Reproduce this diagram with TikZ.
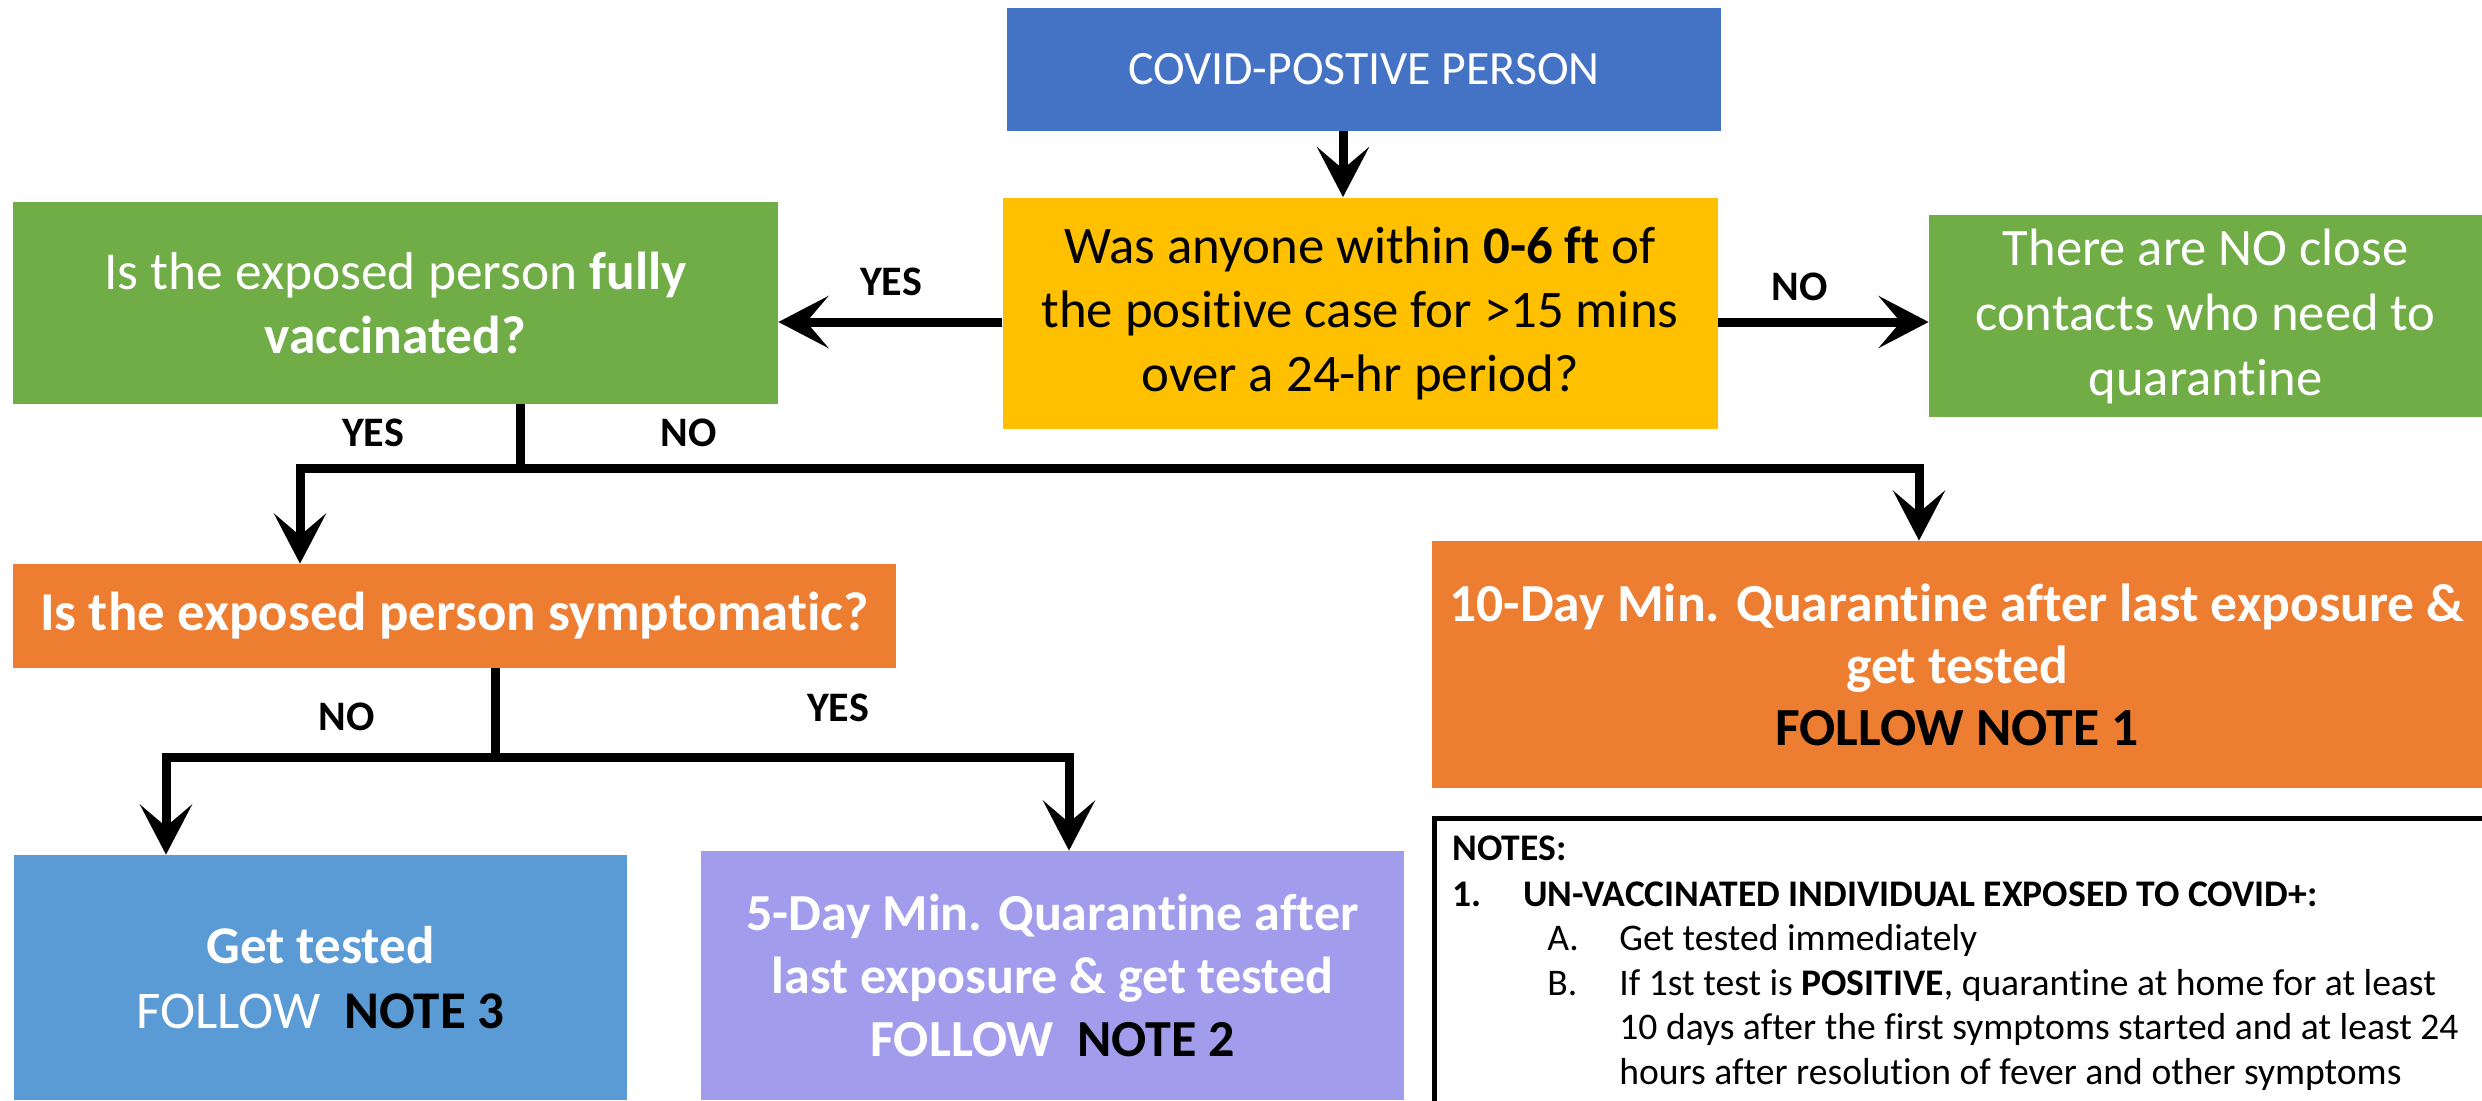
\documentclass[tikz,border=0pt]{standalone}
\usepackage{fontspec}
\setmainfont{Carlito}[Ligatures=NoCommon]
\usetikzlibrary{arrows.meta}
\definecolor{cblue}{HTML}{4472C4}
\definecolor{cyellow}{HTML}{FFC000}
\definecolor{cgreen}{HTML}{70AD47}
\definecolor{corange}{HTML}{ED7D31}
\definecolor{clblue}{HTML}{5B9BD5}
\definecolor{cpurple}{RGB}{161,156,236}
\begin{document}
\begin{tikzpicture}[x=0.5pt,y=-0.5pt,
  box/.style={draw=none,inner sep=0pt,align=center,text=white},
  arr/.style={line width=4.5pt,-{Stealth[length=25pt,width=26pt,inset=11pt]}},
  conn/.style={line width=4.5pt},
  lbl/.style={inner sep=0pt,font=\fontsize{21}{25}\selectfont\bfseries},
  note/.style={inner sep=0pt,anchor=base west,font=\fontsize{18.8}{22}\selectfont}]
\clip (0,0) rectangle (2482,1100);
\fill[white] (0,0) rectangle (2482,1100);

\node[box,fill=cblue,minimum width=357pt,minimum height=61.5pt,font=\fontsize{23.9}{28}\selectfont] (top) at (1364,69.5) {COVID-POSTIVE PERSON};
\node[box,fill=cyellow,text=black,minimum width=357.5pt,minimum height=115.5pt,font=\fontsize{26.4}{32}\selectfont] (q1) at (1360,313) {Was anyone within \textbf{0-6 ft} of\\the positive case for >15 mins\\over a 24-hr period?};
\node[box,fill=cgreen,minimum width=382.5pt,minimum height=101pt,font=\fontsize{26.7}{32}\selectfont] (vacc) at (395.5,303) {Is the exposed person \textbf{fully}\\\textbf{vaccinated?}};
\node[box,fill=cgreen,minimum width=276.5pt,minimum height=101pt,font=\fontsize{26.3}{32.5}\selectfont] (none) at (2205.5,316) {There are NO close\\contacts who need to\\quarantine};
\node[box,fill=corange,minimum width=441.5pt,minimum height=52pt,font=\fontsize{27.4}{32}\selectfont\bfseries] (sym) at (454.5,616) {Is the exposed person symptomatic?};
\node[box,fill=corange,minimum width=525pt,minimum height=123.5pt,font=\fontsize{26.8}{31}\selectfont\bfseries] (q10) at (1957,664.5) {10-Day Min. Quarantine after last exposure \&\\get tested\\\textcolor{black}{FOLLOW NOTE 1}};
\node[box,fill=clblue,minimum width=306.5pt,minimum height=122.5pt,font=\fontsize{26.5}{32.5}\selectfont] (gt) at (320.5,977.5) {\textbf{Get tested}\\FOLLOW\hspace{0.45em}\textcolor{black}{\bfseries NOTE 3}};
\node[box,fill=cpurple,minimum width=351.5pt,minimum height=124.5pt,font=\fontsize{26}{31.5}\selectfont\bfseries] (q5) at (1052.5,975.5) {5-Day Min. Quarantine after\\last exposure \& get tested\\FOLLOW\hspace{0.45em}\textcolor{black}{NOTE 2}};

\node[draw=black,line width=2.5pt,inner sep=0pt,minimum width=560pt,minimum height=170pt,anchor=north west] (notes) at (1432,816) {};
\node[note] (n0) at (1452,860.5) {\bfseries NOTES:};
\node[note] (n1a) at (1452,906.5) {\bfseries 1.};
\node[note] (n1b) at (1523,906.5) {\bfseries UN-VACCINATED INDIVIDUAL EXPOSED TO COVID+:};
\node[note] (nA) at (1547,950.5) {A.};
\node[note] (nAt) at (1619,950.5) {Get tested immediately};
\node[note] (nB) at (1547,995.5) {B.};
\node[note] (nBt) at (1619,995.5) {If 1st test is \textbf{POSITIVE}, quarantine at home for at least};
\node[note] (nB2) at (1619,1039.5) {10 days after the first symptoms started and at least 24};
\node[note] (nB3) at (1619,1084.5) {hours after resolution of fever and other symptoms};

\node[lbl] (l1) at (891,282) {YES};
\node[lbl] (l2) at (1800,287) {NO};
\node[lbl] (l3) at (373,433) {YES};
\node[lbl] (l4) at (689,433) {NO};
\node[lbl] (l5) at (347,717) {NO};
\node[lbl] (l6) at (838,708) {YES};

\coordinate (a0) at (1343,0);
\coordinate (a1) at (0,322);
\draw[arr] (top.south -| a0) -- (q1.north -| a0);
\draw[arr] (q1.west |- a1) -- (vacc.east |- a1);
\draw[arr] (q1.east |- a1) -- (none.west |- a1);

\coordinate (j1) at (520,468);
\coordinate (c1) at (300,468);
\coordinate (c2) at (1919,468);
\draw[conn] (vacc.south -| j1) -- (j1);
\draw[arr] (j1) -- (c1) -- (c1 |- sym.north);
\draw[arr] (j1) -- (c2) -- (c2 |- q10.north);

\coordinate (j2) at (495,757);
\coordinate (c3) at (166,757);
\coordinate (c4) at (1069,757);
\draw[conn] (sym.south -| j2) -- (j2);
\draw[arr] (j2) -- (c3) -- (c3 |- gt.north);
\draw[arr] (j2) -- (c4) -- (c4 |- q5.north);
\end{tikzpicture}
\end{document}
